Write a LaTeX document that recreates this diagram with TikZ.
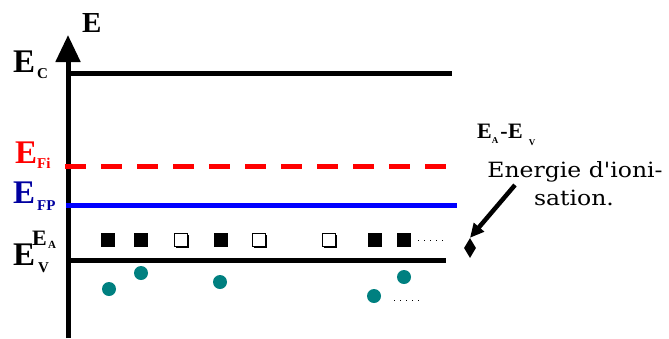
\documentclass[tikz,border=0pt]{standalone}
\usepackage{fontspec}
\setmainfont{Liberation Serif}
\newfontfamily\dvs{DejaVu Serif}
\usetikzlibrary{arrows.meta,shadows,shapes.geometric}
\definecolor{tealhole}{RGB}{0,128,128}
\definecolor{navylab}{RGB}{0,0,160}
\definecolor{bluelev}{RGB}{0,0,255}
\definecolor{redlev}{RGB}{255,0,0}
\newcommand\fsz[1]{\fontsize{#1}{#1}\selectfont}
\begin{document}
\begin{tikzpicture}[x=1pt,y=-1pt,
  lab/.style={inner sep=0pt, anchor=base west},
  big/.style={lab, font=\fsz{33}\bfseries},
  sub/.style={lab, font=\fsz{15}\bfseries},
  lvl/.style={line width=5pt},
  fsq/.style={fill=black, minimum size=14pt, inner sep=0pt},
  osq/.style={draw=black, fill=white, line width=1.4pt, minimum size=13pt, inner sep=0pt,
    drop shadow={shadow xshift=1.5pt, shadow yshift=-1.5pt, fill=black, opacity=1}},
  hole/.style={circle, fill=tealhole, minimum size=14pt, inner sep=0pt},
  dotline/.style={line width=1pt, dash pattern=on 1pt off 5pt},
]
\useasboundingbox (0,0) rectangle (669,338);

% axis
\coordinate (ab) at (68,338);
\coordinate (at) at (68,35);
\draw[line width=5pt, -{Triangle[length=27pt,width=24pt]}] (ab) -- (at);
\node[lab, font=\fsz{29}\bfseries] (Eax) at (82,32) {E};

% levels
\coordinate (c1) at (66,73.5);  \coordinate (c2) at (452,73.5);
\coordinate (f1) at (65,166);   \coordinate (f2) at (446,166);
\coordinate (p1) at (66,205.5); \coordinate (p2) at (457,205.5);
\coordinate (v1) at (66,260);   \coordinate (v2) at (446,260);
\draw[lvl] (c1) -- (c2);
\draw[lvl, redlev, dash pattern=on 21pt off 15pt] (f1) -- (f2);
\draw[lvl, bluelev] (p1) -- (p2);
\draw[lvl] (v1) -- (v2);

% labels
\node[big] (Ec) at (13,72) {E};
\node[sub] (Ecs) at (37,78) {C};
\node[big, redlev] (Efi) at (15,163) {E};
\node[sub, redlev] (Efis) at (37,168) {Fi};
\node[big, navylab] (Efp) at (13,203) {E};
\node[sub, navylab] (Efps) at (37,210) {FP};
\node[lab, font=\fsz{22}\bfseries] (Ea) at (32,245) {E};
\node[lab, font=\fsz{11}\bfseries] (Eas) at (48,248) {A};
\node[big] (Ev) at (13,265) {E};
\node[sub] (Evs) at (38,272) {V};

% acceptor levels
\node[fsq] (s1) at (108,240) {};
\node[fsq] (s2) at (141,240) {};
\node[osq] (s3) at (181,240) {};
\node[fsq] (s4) at (221,240) {};
\node[osq] (s5) at (259,240) {};
\node[osq] (s6) at (329,240) {};
\node[fsq] (s7) at (375,240) {};
\node[fsq] (s8) at (404,240) {};
\coordinate (d1) at (418,240); \coordinate (d2) at (446,240);
\draw[dotline] (d1) -- (d2);

% holes
\node[hole] (h1) at (109,289) {};
\node[hole] (h2) at (141,273) {};
\node[hole] (h3) at (220,282) {};
\node[hole] (h4) at (374,296) {};
\node[hole] (h5) at (404,277) {};
\coordinate (e1) at (394,300); \coordinate (e2) at (422,300);
\draw[dotline] (e1) -- (e2);

% ionisation energy
\node[diamond, fill=black, minimum width=12pt, minimum height=20pt, inner sep=0pt] (dia) at (470,248) {};
\node[lab, font=\fsz{22}\bfseries] (eaev) at (477,138) {E\raisebox{-5pt}{\fsz{9}A}\hspace{2pt}-\hspace{0.5pt}E\hspace{6pt}\raisebox{-7pt}{\fsz{9}V}};
\node[inner sep=0pt, anchor=base, font=\dvs\fsz{21}] (en1) at (575,177) {\scalebox{1.12}[1]{Energie d\textquotesingle ioni-}};
\node[inner sep=0pt, anchor=base, font=\dvs\fsz{21}] (en2) at (574,205) {\scalebox{1.12}[1]{sation.}};
\coordinate (ta) at (515,185);
\draw[line width=4.5pt, -{Triangle[length=14pt,width=13pt]}] (ta) -- (dia.north);
\end{tikzpicture}
\end{document}
